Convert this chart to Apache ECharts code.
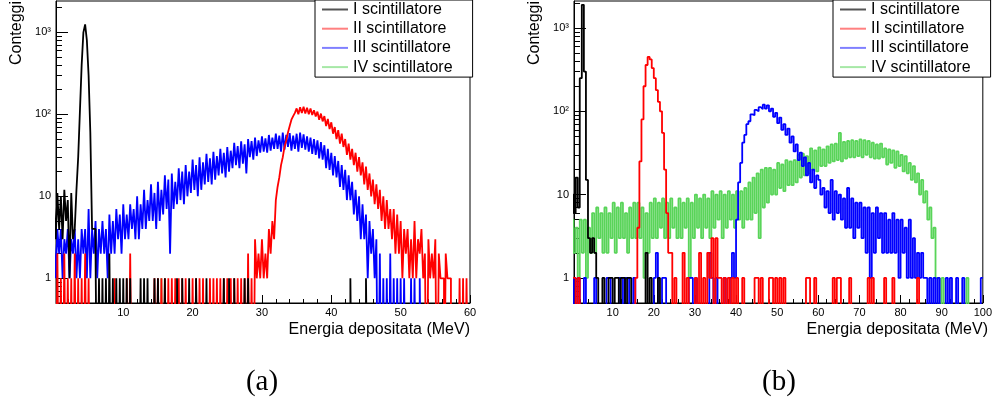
<!DOCTYPE html>
<html><head><meta charset="utf-8">
<script src="https://cdn.jsdelivr.net/npm/echarts@6/dist/echarts.min.js"></script>
<style>html,body{margin:0;padding:0;background:#fff}#c{width:995px;height:405px}</style>
</head><body><div id="c"></div>
<script>
// ---------------- DATA ----------------
const seriesNames = ['I scintillatore', 'II scintillatore', 'III scintillatore', 'IV scintillatore'];
const xTitle = 'Energia depositata (MeV)';
const yTitle = 'Conteggi';
const captions = ['(a)', '(b)'];
const xMajorA = [10, 20, 30, 40, 50, 60];
const xMinorA = [2,4,6,8,12,14,16,18,22,24,26,28,32,34,36,38,42,44,46,48,52,54,56,58];
const xMajorB = [10, 20, 30, 40, 50, 60, 70, 80, 90, 100];
const xMinorB = [2,4,6,8,12,14,16,18,22,24,26,28,32,34,36,38,42,44,46,48,52,54,56,58,62,64,66,68,72,74,76,78,82,84,86,88,92,94,96,98];
const yMajor = [1, 10, 100, 1000];
const yMinor = [0.6,0.7,0.8,0.9,2,3,4,5,6,7,8,9,20,30,40,50,60,70,80,90,200,300,400,500,600,700,800,900,2000];

// Panel (a): bins of 0.25 MeV starting at 0 MeV (240 bins)
const binA = 0.25, nBinsA = 240;
// I scintillatore (a): dense from 0 MeV, then isolated counts [MeV, counts]
const blackA = [8,3,11,4, 10,3,12,5, 9,1,11,3, 4,12,30,110, 400,1000,1250,800, 300,60,4,4,
  2,0,1,0, 1,0,1,0, 2,0,1,0, 1,0,1,0, 1,0,1,0, 1,0,0,0, 0,0,1,0, 1,0,1,0, 0,0,1,0, 1,0,0,0];
const blackASpikes = [[16,1],[17.75,1],[18.5,1],[19.5,1],[20.5,1],[22,1],[24.5,1],[25.25,1],[26,1],[27.5,1],[28,1],[42.75,1],[45,1]];
// II scintillatore (a)
const redA = [1,0,2,0, 1,0,2,0, 1,0,1,0, 2,0,1,0, 1,0,2,0, 1,0,0,0, 0,0,0,0, 0,0,0,0, 0,0,0,1, 0,0,0,0,
  0,0,1,0, 2,0,0,0, 0,0,0,0, 0,0,0,0, 0,0,1,0, 1,0,1,0, 1,0,1,0, 1,0,1,0, 1,0,1,0, 1,0,0,0,
  1,0,1,0, 1,0,1,0, 0,0,1,0, 1,0,1,0, 1,0,1,0, 1,0,1,0, 1,0,1,0, 1,0,1,0, 2,0,1,0, 3,1,2,1,
  3,1,2,1, 4,2,5,3, 9,13,17,24, 30,40,48,60, 72,86,95,104, 118,100,122,104, 124,102,120,100, 118,98,112,94, 108,86,102,82, 95,72,88,66,
  80,58,70,50, 64,44,58,40, 50,32,44,28, 38,24,34,20, 30,18,26,14, 23,12,19,10, 16,8,14,7, 12,5,10,4, 9,4,7,3, 7,2,6,2,
  5,1,4,2, 4,1,3,1, 5,1,3,2, 4,1,2,0, 3,1,2,1, 3,0,2,1, 1,0,2,1, 1,0,0,0, 0,0,1,0, 1,0,1,0];
// III scintillatore (a)
const blueA = [3,1,4,2, 4,1,3,2, 4,1,3,2, 4,1,3,1, 4,2,4,1, 7,1,4,2, 5,1,4,2, 5,2,4,1, 6,2,5,2, 7,3,6,2,
  8,3,6,3, 8,4,7,3, 10,3,8,4, 12,4,9,5, 14,5,11,4, 15,5,12,6, 18,7,16,2, 19,7,15,8, 22,9,20,8, 24,10,20,11,
  28,12,24,10, 30,12,26,14, 33,15,29,14, 35,16,31,18, 38,19,34,17, 40,20,36,22, 45,24,41,22, 47,25,43,19, 50,30,47,28, 52,31,48,34,
  54,35,51,34, 56,36,52,38, 58,38,55,35, 60,37,56,40, 59,36,55,38, 58,35,60,39, 57,37,54,35, 52,33,50,32, 48,29,46,28, 42,22,38,21,
  34,18,31,17, 27,13,24,12, 21,9,18,9, 15,6,12,5, 10,3,8,3, 6,1,5,2, 4,1,3,0, 2,0,1,0, 1,0,2,0, 1,0,1,0,
  1,0,1,0, 0,0,1,0, 1,0,0,1];
// IV scintillatore (a): only isolated counts
const greenASpikes = [[15.5,1]];

// Panel (b): bins of 0.5 MeV starting at 0 MeV (200 bins)
const binB = 0.5, nBinsB = 200;
const blackB = [10,6, 16,7, 250,1900, 300,15, 3,2, 3,2, 1,0, 0,1, 0,0, 1,1, 0,1, 1,0, 1,1, 0,1, 1,0, 0,0, 0,0, 0,0, 2,0, 1,0, 0,0, 1,0];
const redB = [1,1, 0,1, 0,0, 0,0, 0,0, 0,0, 0,0, 0,0, 0,0, 0,0, 0,0, 0,0, 0,0, 0,0, 0,0, 0,1,
  4,25, 80,200, 360,450, 420,330, 250,180, 130,100, 55,20, 6,2, 2,0, 1,0,
  0,0, 2,0, 1,0, 0,0, 1,0, 2,0, 1,0, 2,1, 3,0, 3,1, 1,0, 1,0, 1,0, 1,0, 1,0];
const redBSpikes = [[41.5,1],[44.5,1],[45,1],[46,1],[48,1],[48.5,1],[49.5,1],[50.5,1],[51.5,1],[57,1],[57.5,1],[59,1],[63.5,1],[64.5,1],[65,1],[67.5,1],[72,1],[73,1],[76,1],[78,1],[84,1]];
const blueBStart = 40;
const blueB = [5,14, 24,42, 52,70, 76,92, 90,104, 100,112, 106,120, 108,118, 100,108, 86,96,
  72,84, 60,70, 52,62, 42,50, 33,40, 26,32, 22,28, 17,24, 14,20, 12,17,
  15,10, 12,7, 11,6, 15,5, 11,6, 10,5, 9,4, 12,4, 9,3, 8,4,
  8,3, 7,2, 7,1, 6,2, 7,3, 6,2, 6,2, 5,2, 6,2, 5,1,
  5,2, 4,1, 5,1, 3,1, 2,1, 2,1, 1,0, 1,0, 1,0, 1,0,
  0,0, 1,0, 1,0, 0,1, 0,0, 1,0, 0,0, 0,0, 0,0, 0,1];
const blueBSpikes = [[0.5,1],[1.5,1],[3,1],[5.5,1],[8.5,1],[9,1],[11.5,1],[12,1],[13,1],[13.5,1],[15,1],[20,1],[20.5,2],[22,1],[22.5,1],[28.5,1],[29,1],[30,1],[33.5,2],[34,1],[35,1],[37,1],[38.5,1],[39,2],[39.5,1]];
const greenB = [5,2, 4,1, 5,2, 5,1, 4,2, 6,2, 7,3, 6,2, 7,2, 6,3,
  8,2, 7,3, 8,3, 6,2, 7,3, 8,3, 8,3, 7,1, 6,2, 8,3,
  9,3, 8,4, 9,3, 8,3, 9,4, 7,3, 9,3, 8,4, 9,1, 8,3,
  10,4, 9,3, 10,4, 9,3, 11,4, 10,5, 11,3, 10,4, 11,5, 10,4,
  11,5, 11,4, 12,5, 14,5, 16,6, 18,3, 20,7, 21,8, 21,10, 20,10,
  24,12, 23,11, 26,13, 25,13, 26,14, 30,16, 31,17, 29,18, 36,20, 34,19,
  37,22, 35,22, 38,24, 40,25, 41,26, 55,25, 43,27, 44,28, 45,28, 44,29,
  46,28, 45,30, 44,28, 42,27, 40,27, 41,28, 36,23, 35,24, 34,21, 33,22,
  30,19, 29,18, 24,15, 22,14, 18,10, 15,8, 11,5, 7,3, 4,1, 1,0, 1,0];
const greenBSpikes = [[96,1]];

// ---------------- BUILD ----------------
const COLORS = ['#000000', '#ff0000', '#0000ff', '#59d459'];
const LEGEND_COLORS = ['#555555', '#ff8080', '#8080ff', '#a6e8a6'];
const ZERO = 0.01; // empty bins fall below the log axis and are clipped
const FONT = "'Liberation Sans', Arial, Helvetica, sans-serif";

function bins(n, w, start, vals, spikes) {
  const a = new Array(n).fill(0);
  const o = Math.round(start / w);
  (vals || []).forEach((v, i) => { if (o + i < n) a[o + i] = v; });
  (spikes || []).forEach(([e, c]) => { a[Math.round(e / w)] = c; });
  return a;
}
function stepData(arr, w) {
  const d = arr.map((v, i) => [i * w, v > 0 ? v : ZERO]);
  const last = arr[arr.length - 1];
  d.push([arr.length * w, last > 0 ? last : ZERO]);
  return d;
}
const panelA = [
  bins(nBinsA, binA, 0, blackA, blackASpikes),
  bins(nBinsA, binA, 0, redA, []),
  bins(nBinsA, binA, 0, blueA, []),
  bins(nBinsA, binA, 0, [], greenASpikes)
];
const panelB = [
  bins(nBinsB, binB, 0, blackB, []),
  bins(nBinsB, binB, 0, redB, redBSpikes),
  bins(nBinsB, binB, blueBStart, blueB, blueBSpikes),
  bins(nBinsB, binB, 0, greenB, greenBSpikes)
];

function xAxes(grid, min, max, majors, minors) {
  return [
    { type: 'value', gridIndex: grid, min, max, position: 'bottom',
      axisLine: { show: true, onZero: false, lineStyle: { color: '#000', width: 1 } },
      axisTick: { show: true, inside: true, length: 8, customValues: majors, lineStyle: { color: '#000', width: 1 } },
      axisLabel: { show: true, customValues: majors, margin: 4, fontSize: 11, color: '#000', fontFamily: FONT },
      splitLine: { show: false } },
    { type: 'value', gridIndex: grid, min, max, position: 'bottom',
      axisLine: { show: false },
      axisTick: { show: true, inside: true, length: 4, customValues: minors, lineStyle: { color: '#000', width: 1 } },
      axisLabel: { show: false }, splitLine: { show: false } }
  ];
}
function yAxes(grid, min, max) {
  const sup = { 0: '1', 1: '10', 2: '10²', 3: '10³' };
  return [
    { type: 'log', logBase: 10, gridIndex: grid, min, max, position: 'left',
      axisLine: { show: true, onZero: false, lineStyle: { color: '#000', width: 1 } },
      axisTick: { show: true, inside: true, length: 12, customValues: yMajor, lineStyle: { color: '#000', width: 1 } },
      axisLabel: { show: true, customValues: yMajor, margin: 5, fontSize: 11, color: '#000', fontFamily: FONT,
        formatter: v => sup[Math.round(Math.log10(v))] },
      splitLine: { show: false } },
    { type: 'log', logBase: 10, gridIndex: grid, min, max, position: 'left',
      axisLine: { show: false },
      axisTick: { show: true, inside: true, length: 6, customValues: yMinor, lineStyle: { color: '#000', width: 1 } },
      axisLabel: { show: false }, splitLine: { show: false } }
  ];
}

const drawOrder = [3, 2, 1, 0]; // IV underneath, I on top
const series = [];
[[panelA, binA, 0], [panelB, binB, 2]].forEach(([panel, w, ax]) => {
  drawOrder.forEach(k => {
    series.push({
      name: seriesNames[k], type: 'line', step: 'end',
      xAxisIndex: ax, yAxisIndex: ax,
      data: stepData(panel[k], w),
      symbol: 'none', showSymbol: false, clip: true, silent: true,
      lineStyle: { width: 1.8, color: COLORS[k] }, itemStyle: { color: COLORS[k] },
      emphasis: { disabled: true }, animation: false
    });
  });
});

function legend(left) {
  return {
    left, top: 0, orient: 'vertical', padding: [1.5, 20, 2, 7], itemGap: 3.2,
    itemWidth: 26, itemHeight: 2, icon: 'rect', selectedMode: false,
    borderColor: '#000', borderWidth: 1, backgroundColor: '#fff', borderRadius: 0,
    textStyle: { fontSize: 16, fontFamily: FONT, color: '#000', lineHeight: 16 },
    data: seriesNames.map((n, i) => ({ name: n, itemStyle: { color: LEGEND_COLORS[i] } }))
  };
}
function txt(x, y, text, opts) {
  return Object.assign({ type: 'text', x, y, silent: true,
    style: Object.assign({ text, fill: '#000', fontFamily: FONT, fontSize: 16 }, opts.style) }, opts.el || {});
}

const option = {
  backgroundColor: '#fff',
  animation: false,
  grid: [
    { left: 56, top: 1, width: 414, height: 302, show: true, borderColor: '#000', borderWidth: 1, backgroundColor: 'transparent' },
    { left: 574, top: 1, width: 414, height: 302, show: true, borderColor: '#000', borderWidth: 1, backgroundColor: 'transparent' }
  ],
  xAxis: [...xAxes(0, 0.3, 60, xMajorA, xMinorA), ...xAxes(1, 0.6, 100, xMajorB, xMinorB)],
  yAxis: [...yAxes(0, 0.5, 2410), ...yAxes(1, 0.5, 2110)],
  legend: [legend(315), legend(833)],
  series,
  graphic: [
    txt(17, 1, yTitle, { style: { align: 'right', verticalAlign: 'middle' }, el: { rotation: Math.PI / 2 } }),
    txt(535, 1, yTitle, { style: { align: 'right', verticalAlign: 'middle' }, el: { rotation: Math.PI / 2 } }),
    txt(470, 330, xTitle, { style: { align: 'right', verticalAlign: 'middle' } }),
    txt(988, 330, xTitle, { style: { align: 'right', verticalAlign: 'middle' } }),
    txt(262, 382, captions[0], { style: { align: 'center', verticalAlign: 'middle', fontFamily: "'Liberation Serif', 'DejaVu Serif', serif", fontSize: 29 } }),
    txt(779, 382, captions[1], { style: { align: 'center', verticalAlign: 'middle', fontFamily: "'Liberation Serif', 'DejaVu Serif', serif", fontSize: 29 } })
  ]
};
const chart = echarts.init(document.getElementById('c'), null, { renderer: 'canvas' });
chart.setOption(option);
</script></body></html>
